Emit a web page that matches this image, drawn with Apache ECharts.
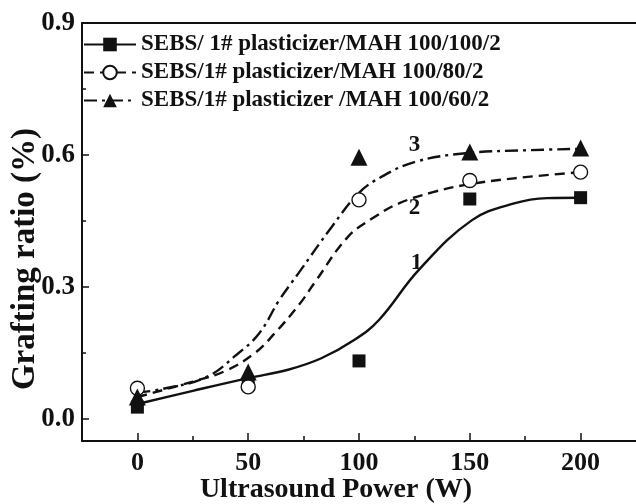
<!DOCTYPE html>
<html>
<head>
<meta charset="utf-8">
<script src="https://cdn.jsdelivr.net/npm/echarts@6/dist/echarts.min.js"></script>
<style>
html,body{margin:0;padding:0;background:#fff;}
#chart{width:636px;height:504px;}
</style>
</head>
<body>
<div id="chart"></div>
<script>
// ---- data ----
const powers = [0, 50, 100, 150, 200];
const s1Values = [0.027, 0.08, 0.132, 0.500, 0.503];   // squares
const s2Values = [0.070, 0.073, 0.498, 0.542, 0.561];  // open circles
const s3Values = [0.050, 0.107, 0.595, 0.607, 0.616];  // triangles

// fitted curves
const curve1X = [0, 25, 50, 68, 83, 98, 109, 127, 151, 170, 185, 200];
const curve1Y = [0.034, 0.064, 0.093, 0.112, 0.138, 0.18, 0.225, 0.339, 0.452, 0.49, 0.502, 0.503];
const curve2X = [0, 25, 40, 53, 62, 73, 80, 95, 107, 118, 133, 148, 170, 200];
const curve2Y = [0.05, 0.085, 0.11, 0.15, 0.195, 0.26, 0.31, 0.414, 0.459, 0.49, 0.515, 0.532, 0.547, 0.561];
const curve3X = [0, 11, 31, 44.5, 55, 64, 72.8, 87.6, 100, 110, 125, 148, 177, 200];
const curve3Y = [0.06, 0.068, 0.095, 0.145, 0.195, 0.27, 0.332, 0.436, 0.514, 0.55, 0.584, 0.604, 0.611, 0.614];

const seriesNames = ['SEBS/ 1# plasticizer/MAH 100/100/2', 'SEBS/1# plasticizer/MAH 100/80/2', 'SEBS/1# plasticizer /MAH 100/60/2'];
const curveLabels = ['1', '2', '3'];
const curveLabelX = [126, 125, 125];
const curveLabelY = [0.355, 0.48, 0.623];

const xMajorTicks = [0, 50, 100, 150, 200];
const xMinorTicks = [25, 75, 125, 175];
const yMajorTicks = [0, 0.3, 0.6, 0.9];
const yMinorTicks = [0.15, 0.45, 0.75];

// ---- chart ----
const FONT = "'Liberation Serif', 'Times New Roman', serif";
const INK = '#111';
const zip = (xs, ys) => xs.map((x, i) => [x, ys[i]]);

const chart = echarts.init(document.getElementById('chart'), null, {renderer: 'canvas'});

const xBase = {type: 'value', min: -25, max: 225, splitLine: {show: false}};
const yBase = {type: 'value', min: -0.05, max: 0.9, splitLine: {show: false}};

const curveSymbols = ['rect', 'emptyCircle', 'triangle'];
const curveDash = ['solid', [10, 6], [13, 5, 3, 5]];
const curves = [zip(curve1X, curve1Y), zip(curve2X, curve2Y), zip(curve3X, curve3Y)];
const markers = [s1Values, s2Values, s3Values];
const markerSizes = [13, 14, 17];

const series = [];
curves.forEach((c, i) => {
  series.push({
    name: seriesNames[i], type: 'line', data: c, smooth: 0.4,
    symbol: curveSymbols[i], showSymbol: false, symbolSize: 12,
    lineStyle: {color: INK, width: 2.4, type: curveDash[i]},
    itemStyle: {color: INK},
    emphasis: {disabled: true}, silent: true, z: 2
  });
});
markers.forEach((vals, i) => {
  series.push({
    name: 'markers' + (i + 1), type: 'scatter', data: zip(powers, vals),
    symbol: curveSymbols[i] === 'emptyCircle' ? 'circle' : curveSymbols[i],
    symbolSize: markerSizes[i],
    itemStyle: curveSymbols[i] === 'emptyCircle'
      ? {color: '#fff', borderColor: INK, borderWidth: 1.4, opacity: 1}
      : {color: INK, opacity: 1},
    emphasis: {disabled: true}, silent: true, z: 3
  });
});
series.push({
  name: 'curveLabels', type: 'scatter', symbolSize: 0,
  itemStyle: {opacity: 1},
  data: zip(curveLabelX, curveLabelY).map((p, i) => ({value: p, label: {formatter: curveLabels[i]}})),
  label: {show: true, position: 'inside', color: INK, fontFamily: FONT, fontWeight: 'bold', fontSize: 23},
  silent: true, z: 4
});

chart.setOption({
  animation: false,
  backgroundColor: '#fff',
  grid: {left: 82, right: -3, top: 23, bottom: 63, containLabel: false},
  legend: {
    data: seriesNames, orient: 'vertical', left: 78, top: 28, padding: 5,
    itemWidth: 52, itemHeight: 17, itemGap: 5, selectedMode: false,
    textStyle: {color: INK, fontFamily: FONT, fontWeight: 'bold', fontSize: 23}
  },
  xAxis: [
    Object.assign({}, xBase, {
      position: 'bottom',
      axisLine: {onZero: false, lineStyle: {color: INK, width: 2}},
      axisTick: {inside: true, length: 8, customValues: xMajorTicks, lineStyle: {color: INK, width: 1.5}},
      axisLabel: {customValues: xMajorTicks, margin: 9, color: INK, fontFamily: FONT, fontWeight: 'bold', fontSize: 26}
    }),
    Object.assign({}, xBase, {
      position: 'bottom',
      axisLine: {onZero: false, show: false},
      axisTick: {inside: true, length: 5, customValues: xMinorTicks, lineStyle: {color: INK, width: 1.5}},
      axisLabel: {show: false}
    }),
    Object.assign({}, xBase, {
      position: 'top',
      axisLine: {onZero: false, lineStyle: {color: INK, width: 2}},
      axisTick: {show: false}, axisLabel: {show: false}
    })
  ],
  yAxis: [
    Object.assign({}, yBase, {
      position: 'left',
      axisLine: {onZero: false, lineStyle: {color: INK, width: 2}},
      axisTick: {inside: true, length: 7, customValues: yMajorTicks, lineStyle: {color: INK, width: 1.5}},
      axisLabel: {customValues: yMajorTicks, margin: 7, formatter: v => v.toFixed(1), color: INK, fontFamily: FONT, fontWeight: 'bold', fontSize: 27}
    }),
    Object.assign({}, yBase, {
      position: 'left',
      axisLine: {onZero: false, show: false},
      axisTick: {inside: true, length: 4, customValues: yMinorTicks, lineStyle: {color: INK, width: 1.5}},
      axisLabel: {show: false}
    })
  ],
  graphic: [
    {type: 'text', x: 336, y: 490, silent: true,
     style: {text: 'Ultrasound Power (W)', fill: INK, fontFamily: FONT, fontWeight: 'bold', fontSize: 28, textAlign: 'center', textVerticalAlign: 'middle'}},
    {type: 'text', x: 25, y: 259, rotation: Math.PI / 2, silent: true,
     style: {text: 'Grafting ratio (%)', fill: INK, fontFamily: FONT, fontWeight: 'bold', fontSize: 33, textAlign: 'center', textVerticalAlign: 'middle'}}
  ],
  series: series
});
</script>
</body>
</html>
